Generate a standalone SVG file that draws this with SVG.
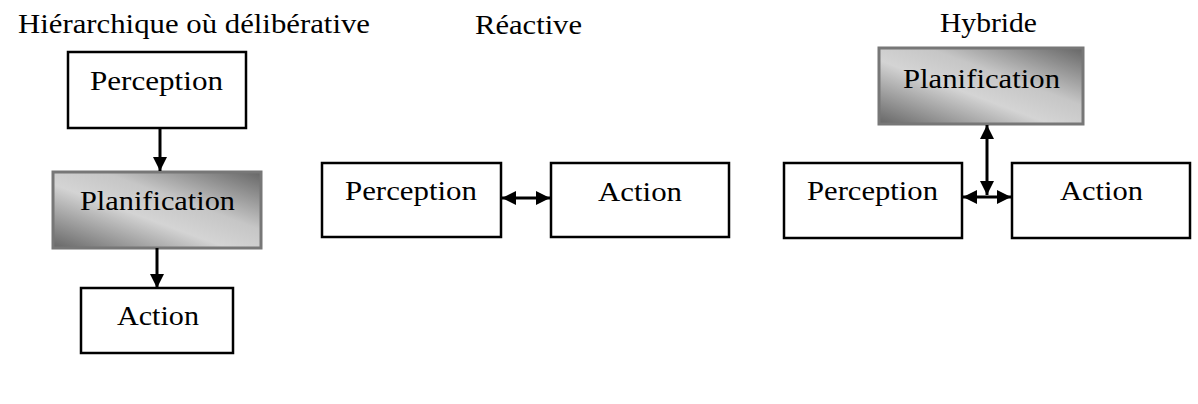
<svg xmlns="http://www.w3.org/2000/svg" width="1198" height="404" viewBox="0 0 1198 404">
<style>
  .t { font-family: "Liberation Serif", "Times New Roman", serif; font-size: 28px; fill: #000; }
  .box { fill: #fff; stroke: #000; stroke-width: 2.5; }
  .plan { fill: url(#grad); stroke: #777; stroke-width: 3; }
  .conn { stroke: #000; stroke-width: 3; fill: none; }
</style>
<defs>
  <linearGradient id="grad" x1="0" y1="1" x2="1" y2="0">
    <stop offset="0" stop-color="#666"/>
    <stop offset="0.42" stop-color="#d4d4d4"/>
    <stop offset="0.62" stop-color="#c6c6c6"/>
    <stop offset="1" stop-color="#666"/>
  </linearGradient>
  <marker id="arr" markerUnits="userSpaceOnUse" markerWidth="15" markerHeight="14" refX="14" refY="7" orient="auto-start-reverse">
    <path d="M0,0 L14,7 L0,14 z" fill="#000"/>
  </marker>
</defs>
<rect width="1198" height="404" fill="#fff"/>

<g id="titles">
  <text class="t" x="18" y="33" textLength="352" lengthAdjust="spacingAndGlyphs">Hiérarchique où délibérative</text>
  <text class="t" x="475" y="34" textLength="107" lengthAdjust="spacingAndGlyphs">Réactive</text>
  <text class="t" x="940" y="32" textLength="97" lengthAdjust="spacingAndGlyphs">Hybride</text>
</g>

<g id="h-perception">
  <rect class="box" x="68" y="52" width="178" height="76"/>
  <text class="t" x="90" y="90" textLength="133" lengthAdjust="spacingAndGlyphs">Perception</text>
</g>
<g id="h-planification">
  <rect class="plan" x="53" y="172" width="208" height="76"/>
  <text class="t" x="80" y="210" textLength="155" lengthAdjust="spacingAndGlyphs">Planification</text>
</g>
<g id="h-action">
  <rect class="box" x="81" y="288" width="152" height="65"/>
  <text class="t" x="117" y="325" textLength="82" lengthAdjust="spacingAndGlyphs">Action</text>
</g>

<g id="r-perception">
  <rect class="box" x="322" y="163" width="179" height="74"/>
  <text class="t" x="345" y="200" textLength="132" lengthAdjust="spacingAndGlyphs">Perception</text>
</g>
<g id="r-action">
  <rect class="box" x="551" y="163" width="178" height="74"/>
  <text class="t" x="598" y="201" textLength="84" lengthAdjust="spacingAndGlyphs">Action</text>
</g>

<g id="y-planification">
  <rect class="plan" x="879" y="48" width="204" height="76"/>
  <text class="t" x="903" y="88" textLength="157" lengthAdjust="spacingAndGlyphs">Planification</text>
</g>
<g id="y-perception">
  <rect class="box" x="784" y="163" width="178" height="75"/>
  <text class="t" x="807" y="200" textLength="131" lengthAdjust="spacingAndGlyphs">Perception</text>
</g>
<g id="y-action">
  <rect class="box" x="1012" y="163" width="178" height="75"/>
  <text class="t" x="1060" y="200" textLength="83" lengthAdjust="spacingAndGlyphs">Action</text>
</g>

<g id="connectors">
  <line class="conn" x1="160" y1="128" x2="160" y2="171" marker-end="url(#arr)"/>
  <line class="conn" x1="157" y1="248" x2="157" y2="288" marker-end="url(#arr)"/>
  <line class="conn" x1="502" y1="198" x2="550" y2="198" marker-start="url(#arr)" marker-end="url(#arr)"/>
  <line class="conn" x1="987" y1="125" x2="987" y2="195" marker-start="url(#arr)" marker-end="url(#arr)"/>
  <line class="conn" x1="963" y1="197" x2="1011" y2="197" marker-start="url(#arr)" marker-end="url(#arr)"/>
</g>
</svg>
